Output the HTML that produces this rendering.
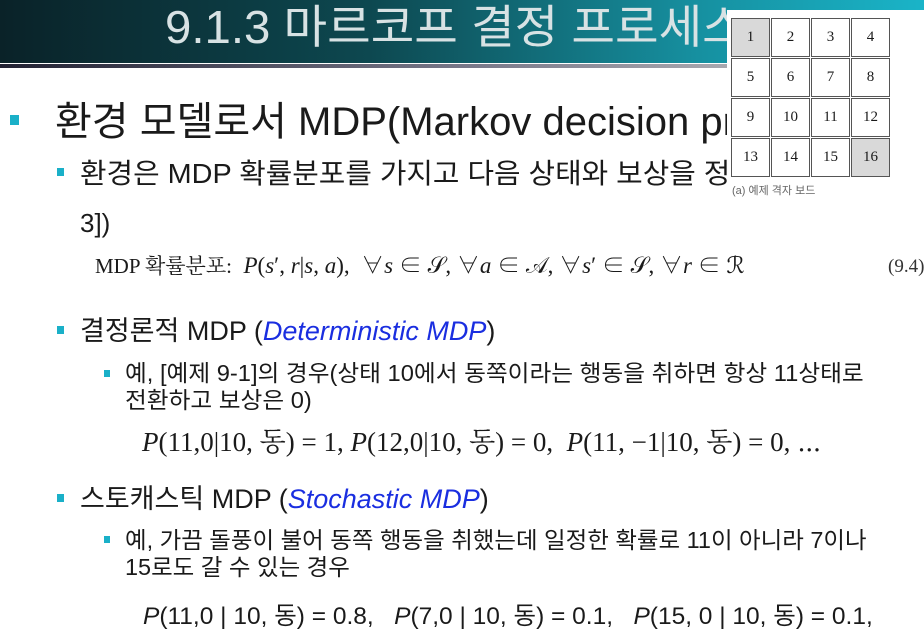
<!DOCTYPE html>
<html><head><meta charset="utf-8"><style>
body{margin:0;width:924px;height:642px;overflow:hidden;background:#fff;position:relative;font-family:"Liberation Sans","Noto Sans CJK KR",sans-serif;color:#1a1a1a}
.t{position:absolute;white-space:nowrap;line-height:1;transform-origin:0 50%}
.b{position:absolute;background:#1ab0c8}
.serif{font-family:"Liberation Serif","Noto Serif CJK SC",serif}
.blue{color:#1a2ee0;font-style:italic}
#grid{position:absolute;left:727px;top:10px;width:197px;height:192px;background:#fff}
.c{position:absolute;width:39px;height:39px;border:1px solid #555;box-sizing:border-box;font:15px "Liberation Serif",serif;display:flex;align-items:center;justify-content:center}
</style></head><body>
<div style="position:absolute;left:0;top:0;width:924px;height:63px;background:linear-gradient(90deg,#0a2228 0%,#0d4850 40%,#168f9f 75%,#1ab4c8 100%)"></div>
<div style="position:absolute;left:0;top:64px;width:924px;height:4px;background:linear-gradient(90deg,#223 0%,#778 50%,#ccc 100%)"></div>
<div class="t" style="left:165px;top:4px;font-size:46px;color:#d8e2e4;transform:scaleX(1.03)">9.1.3 마르코프 결정 프로세스</div>

<div class="b" style="left:10px;top:115px;width:9px;height:10px"></div>
<div class="t" style="left:55px;top:102px;font-size:40px;transform:scaleX(1.0)">환경 모델로서 MDP(Markov decision process)</div>

<div class="b" style="left:57px;top:168px;width:7px;height:8px"></div>
<div class="t" style="left:80px;top:160px;font-size:28px;transform:scaleX(1.03)">환경은 MDP 확률분포를 가지고 다음 상태와 보상을 정함([식 9.4])</div>
<div class="t" style="left:80px;top:210px;font-size:26px">3])</div>
<div class="t serif" style="left:95px;top:254px;font-size:23px"><span style="font-size:21px">MDP 확률분포:</span> &nbsp;<i>P</i>(<i>s</i>′, <i>r</i>|<i>s</i>, <i>a</i>), &nbsp;∀<i>s</i> ∈ 𝒮, ∀<i>a</i> ∈ 𝒜, ∀<i>s</i>′ ∈ 𝒮, ∀<i>r</i> ∈ ℛ</div>
<div class="t serif" style="left:888px;top:257px;font-size:19px;color:#333">(9.4)</div>

<div class="b" style="left:57px;top:326px;width:7px;height:8px"></div>
<div class="t" style="left:80px;top:318px;font-size:27px;transform:scaleX(1.0)">결정론적 MDP (<span class="blue">Deterministic MDP</span>)</div>

<div class="b" style="left:104px;top:370px;width:6px;height:7px"></div>
<div class="t" style="left:125px;top:362px;font-size:23px;transform:scaleX(1.03)">예, [예제 9-1]의 경우(상태 10에서 동쪽이라는 행동을 취하면 항상 11상태로</div>
<div class="t" style="left:125px;top:389px;font-size:23px;transform:scaleX(1.03)">전환하고 보상은 0)</div>
<div class="t serif" style="left:142px;top:429px;font-size:27px"><i>P</i>(11,0|10, 동) = 1, <i>P</i>(12,0|10, 동) = 0, &nbsp;<i>P</i>(11, −1|10, 동) = 0, ⋯</div>

<div class="b" style="left:57px;top:494px;width:7px;height:8px"></div>
<div class="t" style="left:80px;top:486px;font-size:27px">스토캐스틱 MDP (<span class="blue">Stochastic MDP</span>)</div>

<div class="b" style="left:104px;top:536px;width:6px;height:7px"></div>
<div class="t" style="left:125px;top:529px;font-size:23px;transform:scaleX(1.02)">예, 가끔 돌풍이 불어 동쪽 행동을 취했는데 일정한 확률로 11이 아니라 7이나</div>
<div class="t" style="left:125px;top:556px;font-size:23px;transform:scaleX(1.02)">15로도 갈 수 있는 경우</div>
<div class="t" style="left:143px;top:605px;font-size:24.5px"><i>P</i>(11,0 | 10, 동) = 0.8, &nbsp;&nbsp;<i>P</i>(7,0 | 10, 동) = 0.1, &nbsp;&nbsp;<i>P</i>(15, 0 | 10, 동) = 0.1,</div>

<div id="grid"></div>
<div class="t" style="left:732px;top:186px;font-size:11px;color:#666">(a) 예제 격자 보드</div>
<script>
const cells=[1,2,3,4,5,6,7,8,9,10,11,12,13,14,15,16];
const shaded=[1,16];
const g=document.getElementById('grid');
cells.forEach((v,i)=>{
  const d=document.createElement('div');
  
  
  d.className='c';
  d.style.left=(4+(i%4)*40)+'px';
  d.style.top=(8+Math.floor(i/4)*40)+'px';
  if(shaded.includes(v))d.style.background='#d9d9d9';
  d.textContent=v;
  g.appendChild(d);
});
</script>
</body></html>
